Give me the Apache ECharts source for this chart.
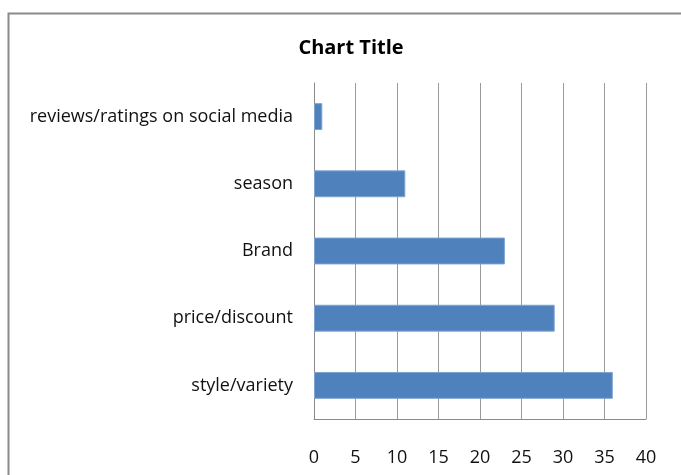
<!DOCTYPE html>
<html><head><meta charset="utf-8">
<script src="https://cdn.jsdelivr.net/npm/echarts@6/dist/echarts.min.js"></script>
<style>html,body{margin:0;padding:0;background:#fff}#c{width:681px;height:475px}</style>
</head><body><div id="c"></div>
<script>
const categories = ["style/variety", "price/discount", "Brand", "season", "reviews/ratings on social media"];
const values = [36, 29, 23, 11, 1];
const xTicks = { min: 0, max: 40, interval: 5 };
const titleText = "Chart Title";

const FONT = "'Open Sans', sans-serif";
const chart = echarts.init(document.getElementById('c'));
chart.setOption({
  animation: false,
  backgroundColor: '#fff',
  graphic: [{
    type: 'rect', left: 6, top: 11, shape: { width: 720, height: 520 },
    style: { fill: 'none', stroke: '#8a8a8a', lineWidth: 2 }, silent: true
  }],
  title: {
    text: titleText, left: 346, top: 33, textAlign: 'center',
    textStyle: { fontFamily: FONT, fontSize: 20, fontWeight: 'bold', color: '#000' }
  },
  grid: { left: 314, top: 83, width: 332, height: 336, containLabel: false },
  xAxis: {
    type: 'value', min: xTicks.min, max: xTicks.max, interval: xTicks.interval,
    axisLine: { show: true, lineStyle: { color: '#8a8a8a', width: 1 } },
    axisTick: { show: false },
    axisLabel: { margin: 30, fontFamily: FONT, fontSize: 18, color: '#111' },
    splitLine: { show: true, lineStyle: { color: '#9a9a9a', width: 1 } }
  },
  yAxis: {
    type: 'category', data: categories,
    axisLine: { show: true, lineStyle: { color: '#8a8a8a', width: 1 } },
    axisTick: { show: false },
    axisLabel: { margin: 21, fontFamily: FONT, fontSize: 18, color: '#111' }
  },
  series: [{
    type: 'bar', data: values, barCategoryGap: '60%',
    itemStyle: { color: '#4F81BD', borderColor: '#7FA3D0', borderWidth: 1 }
  }]
});
</script></body></html>
